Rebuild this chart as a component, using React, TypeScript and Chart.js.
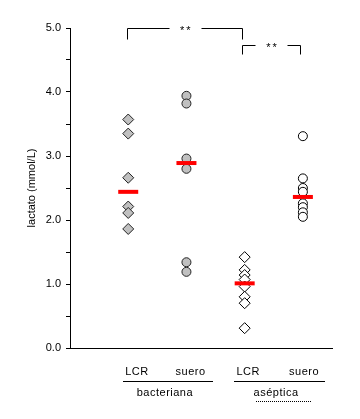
import React, { useEffect, useRef } from 'react';
import { Chart, registerables } from 'chart.js';

Chart.register(...registerables);

// ---- data ----
const categories = ['LCR', 'suero', 'LCR', 'suero'];
const groupNames = ['bacteriana', 'aséptica'];
const categoryX = [1, 2, 3, 4];
const bacterianaLCR = [3.57, 3.35, 2.66, 2.21, 2.11, 1.86];
const bacterianaSuero = [3.94, 3.82, 2.96, 2.8, 1.34, 1.19];
const asepticaLCR = [1.42, 1.22, 1.14, 1.07, 0.96, 0.8, 0.7, 0.31];
const asepticaSuero = [3.31, 2.65, 2.5, 2.44, 2.26, 2.2, 2.12, 2.05];
const medians = [2.44, 2.89, 1.01, 2.36];
const significance = ['**', '**'];
const yTickValues = [0, 1, 2, 3, 4, 5];

// ---- annotation layout (data units for x / y) ----
const labelX = [1.15, 2.07, 3.06, 4.02];
const groupSpan = [
  { from: 0.905, to: 2.45, center: 1.63 },
  { from: 2.82, to: 4.38, center: 3.54 },
];
const brackets = [
  { from: 0.98, to: 2.96, y: 5.0, leg: 4.83, textX: 1.98 },
  { from: 2.96, to: 3.95, y: 4.74, leg: 4.59, textX: 3.46 },
];

const FONT = '"Liberation Sans", Arial, Helvetica, sans-serif';

const annotations = {
  id: 'annotations',
  afterDraw(chart: any) {
    const { ctx, chartArea } = chart;
    const xs = chart.scales.x;
    const ys = chart.scales.y;
    const px = (v: number) => Math.round(xs.getPixelForValue(v)) + 0.5;
    const py = (v: number) => Math.round(ys.getPixelForValue(v)) + 0.5;
    ctx.save();
    ctx.strokeStyle = '#000';
    ctx.fillStyle = '#000';
    ctx.lineWidth = 1;
    ctx.font = `11px ${FONT}`;

    // significance brackets
    brackets.forEach((b, i) => {
      const x1 = px(b.from);
      const x2 = px(b.to);
      const yT = py(b.y);
      const yL = py(b.leg);
      const tx = xs.getPixelForValue(b.textX);
      const gap = 16;
      ctx.beginPath();
      ctx.moveTo(x1, yL);
      ctx.lineTo(x1, yT);
      ctx.lineTo(Math.round(tx - gap) + 0.5, yT);
      ctx.moveTo(Math.round(tx + gap) + 0.5, yT);
      ctx.lineTo(x2, yT);
      ctx.lineTo(x2, yL);
      ctx.stroke();
      ctx.textAlign = 'center';
      ctx.textBaseline = 'alphabetic';
      (ctx as any).letterSpacing = '2px';
      ctx.fillText(significance[i], tx + 1, yT + 5);
      (ctx as any).letterSpacing = '0px';
    });

    // category labels
    const bottom = chartArea.bottom;
    ctx.textAlign = 'center';
    ctx.textBaseline = 'alphabetic';
    (ctx as any).letterSpacing = '0.5px';
    categories.forEach((c, i) => {
      ctx.fillText(c, xs.getPixelForValue(labelX[i]), bottom + 27);
    });
    groupSpan.forEach((g, i) => {
      const y = Math.round(bottom + 33) + 0.5;
      ctx.beginPath();
      ctx.moveTo(Math.round(xs.getPixelForValue(g.from)), y);
      ctx.lineTo(Math.round(xs.getPixelForValue(g.to)), y);
      ctx.stroke();
      ctx.fillText(groupNames[i], xs.getPixelForValue(g.center), bottom + 48);
    });
    (ctx as any).letterSpacing = '0px';
    // dotted underline under "aséptica"
    ctx.setLineDash([1, 1]);
    ctx.beginPath();
    const dy = Math.round(bottom + 53) + 0.5;
    ctx.moveTo(Math.round(xs.getPixelForValue(3.2)), dy);
    ctx.lineTo(Math.round(xs.getPixelForValue(4.14)), dy);
    ctx.stroke();
    ctx.setLineDash([]);
    ctx.restore();
  },
};

const toPoints = (vals: number[], x: number) => vals.map((y) => ({ x, y }));

export default function App() {
  const ref = useRef<HTMLCanvasElement | null>(null);
  useEffect(() => {
    if (!ref.current) return;
    const chart = new Chart(ref.current, {
      type: 'scatter',
      data: {
        datasets: [
          {
            label: 'mediana',
            data: medians.map((y, i) => ({ x: categoryX[i], y })),
            pointStyle: 'line',
            pointRadius: 10,
            borderColor: '#ff0000',
            backgroundColor: '#ff0000',
            pointBorderWidth: 4,
            order: 0,
          },
          {
            label: 'bacteriana LCR',
            data: toPoints(bacterianaLCR, categoryX[0]),
            pointStyle: 'rectRot',
            pointRadius: 5.5,
            backgroundColor: '#c0c0c0',
            borderColor: '#222',
            pointBorderWidth: 1,
            order: 1,
          },
          {
            label: 'bacteriana suero',
            data: toPoints(bacterianaSuero, categoryX[1]),
            pointStyle: 'circle',
            pointRadius: 4.5,
            backgroundColor: '#c0c0c0',
            borderColor: '#222',
            pointBorderWidth: 1,
            order: 1,
          },
          {
            label: 'aséptica LCR',
            data: toPoints(asepticaLCR, categoryX[2]),
            pointStyle: 'rectRot',
            pointRadius: 5.5,
            backgroundColor: '#ffffff',
            borderColor: '#000',
            pointBorderWidth: 1,
            order: 1,
          },
          {
            label: 'aséptica suero',
            data: toPoints(asepticaSuero, categoryX[3]),
            pointStyle: 'circle',
            pointRadius: 4.5,
            backgroundColor: '#ffffff',
            borderColor: '#000',
            pointBorderWidth: 1,
            order: 1,
          },
        ],
      },
      options: {
        animation: false,
        responsive: false,
        maintainAspectRatio: false,
        layout: { padding: { left: 0, top: 28, right: 28, bottom: 71 } },
        plugins: { legend: { display: false }, tooltip: { enabled: false } },
        scales: {
          x: {
            type: 'linear',
            min: 0,
            max: 4.5,
            ticks: { display: false },
            grid: { display: false, drawTicks: false },
            border: { display: true, color: '#000', width: 1 },
            afterFit: (s: any) => {
              s.height = 0;
            },
          },
          y: {
            type: 'linear',
            min: yTickValues[0],
            max: yTickValues[yTickValues.length - 1],
            ticks: {
              stepSize: 0.5,
              color: '#000',
              padding: 5,
              font: { family: FONT, size: 11 },
              callback: (v: any) => (Number.isInteger(Number(v)) ? Number(v).toFixed(1) : ''),
            },
            grid: {
              drawOnChartArea: false,
              drawTicks: true,
              tickLength: 4,
              color: '#000',
              lineWidth: 1,
            },
            border: { display: true, color: '#000', width: 1 },
            title: {
              display: true,
              text: 'lactato (mmol/L)',
              color: '#000',
              font: { family: FONT, size: 11 },
              padding: { top: 25, bottom: 0 },
            },
            afterFit: (s: any) => {
              s.width = 70;
            },
          },
        },
      },
      plugins: [annotations],
    });
    return () => chart.destroy();
  }, []);
  return (
    <div style={{ position: 'absolute', left: 0, top: 0, width: 360, height: 419, background: '#fff' }}>
      <canvas ref={ref} width={360} height={419} />
    </div>
  );
}
